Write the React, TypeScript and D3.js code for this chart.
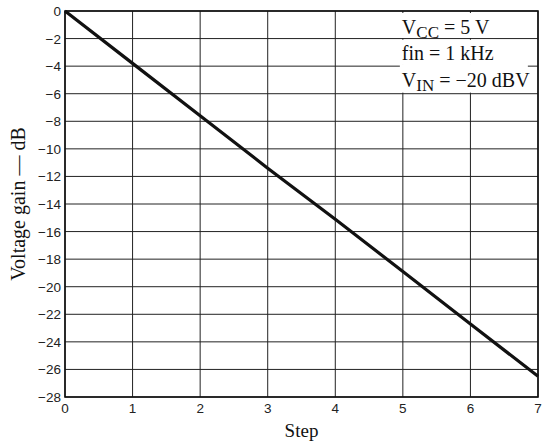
import React from "react";
import * as d3 from "d3";

const steps = [0, 1, 2, 3, 4, 5, 6, 7];
const gainDb = [0, -3.8, -7.6, -11.4, -15.1, -18.9, -22.7, -26.5];
const xTicks = [0, 1, 2, 3, 4, 5, 6, 7];
const yTicks = [0, -2, -4, -6, -8, -10, -12, -14, -16, -18, -20, -22, -24, -26, -28];

const W = 547;
const H = 447;
const M = { left: 65, top: 11, right: 9, bottom: 50 };

export default function App() {
  const x = d3.scaleLinear().domain([0, 7]).range([M.left, W - M.right]);
  const y = d3.scaleLinear().domain([0, -28]).range([M.top, H - M.bottom]);
  const line = d3
    .line<number>()
    .x((_, i) => x(steps[i]))
    .y((d) => y(d));
  const fmt = (v: number) => (v < 0 ? "\u2212" + Math.abs(v) : String(v));
  const sans = "'Liberation Sans', Arial, sans-serif";
  const serif = "'Liberation Serif', 'Times New Roman', serif";

  return (
    <svg
      width={W}
      height={H}
      style={{ position: "fixed", left: 0, top: 0, background: "#fff" }}
    >
      <rect x={0} y={0} width={W} height={H} fill="#fff" />
      {/* grid */}
      {xTicks.map((t) => (
        <line key={"gx" + t} x1={x(t)} x2={x(t)} y1={y(0)} y2={y(-28)} stroke="#222" strokeWidth={1} />
      ))}
      {yTicks.map((t) => (
        <line key={"gy" + t} x1={x(0)} x2={x(7)} y1={y(t)} y2={y(t)} stroke="#222" strokeWidth={1} />
      ))}
      {/* annotation backgrounds */}
      <rect x={x(5) - 3} y={y(0) + 2} width={88} height={25} fill="#fff" />
      <rect x={x(5) - 3} y={y(-2) + 1.2} width={96} height={25} fill="#fff" />
      <rect x={x(5) - 3} y={y(-4) - 2} width={128} height={28.5} fill="#fff" />
      <g fontFamily={serif} fontSize={20} fill="#111">
        <text x={x(5) - 1} y={34}>
          V<tspan fontSize={17} dy={4}>CC</tspan>
          <tspan dy={-4}>{" = 5 V"}</tspan>
        </text>
        <text x={x(5) - 1} y={60}>fin = 1 kHz</text>
        <text x={x(5) - 1} y={87}>
          V<tspan fontSize={17} dy={4}>IN</tspan>
          <tspan dy={-4}>{" = \u221220 dBV"}</tspan>
        </text>
      </g>
      {/* frame */}
      <rect
        x={x(0)}
        y={y(0)}
        width={x(7) - x(0)}
        height={y(-28) - y(0)}
        fill="none"
        stroke="#111"
        strokeWidth={1.6}
      />
      {/* data line */}
      <path d={line(gainDb) || ""} fill="none" stroke="#111" strokeWidth={3.2} />
      {/* y tick labels */}
      <g fontFamily={sans} fontSize={13.5} fill="#222" textAnchor="end">
        {yTicks.map((t) => (
          <text key={"ly" + t} x={x(0) - 4} y={y(t) + 5}>
            {fmt(t)}
          </text>
        ))}
      </g>
      <g fontFamily={sans} fontSize={13.5} fill="#222" textAnchor="middle">
        {xTicks.map((t) => (
          <text key={"lx" + t} x={x(t)} y={413}>
            {fmt(t)}
          </text>
        ))}
      </g>
      <text x={(x(0) + x(7)) / 2} y={437} fontFamily={serif} fontSize={19} textAnchor="middle" fill="#111">
        Step
      </text>
      <text
        transform={`translate(25, ${(y(0) + y(-28)) / 2}) rotate(-90)`}
        fontFamily={serif}
        fontSize={20}
        textAnchor="middle"
        fill="#111"
      >
        Voltage gain — dB
      </text>
    </svg>
  );
}
